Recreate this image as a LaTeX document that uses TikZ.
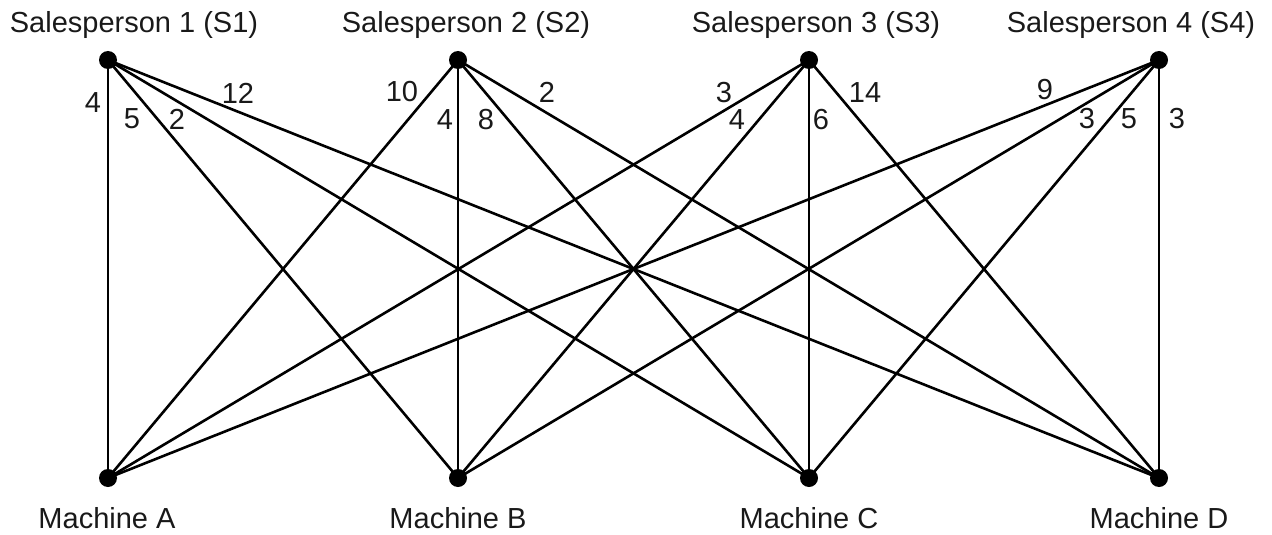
\documentclass[tikz,border=0pt]{standalone}
\usepackage{fontspec}
\setmainfont{Liberation Sans}
\begin{document}
\begin{tikzpicture}[x=1pt,y=-1pt,
  dot/.style={circle,fill=black,inner sep=0pt,minimum size=18pt},
  edge/.style={line width=2.6pt,black},
  lbl/.style={font=\fontsize{29}{34}\selectfont,inner sep=0pt,text=black!90}]
\useasboundingbox (0,0) rectangle (1272,535);
% dots
\node[dot] (s1) at (108,60) {};
\node[dot] (s2) at (458,60) {};
\node[dot] (s3) at (809,60) {};
\node[dot] (s4) at (1159,60) {};
\node[dot] (a) at (108,478) {};
\node[dot] (b) at (458,478) {};
\node[dot] (c) at (809,478) {};
\node[dot] (d) at (1159,478) {};
% edges
\foreach \s in {s1,s2,s3,s4}{
  \foreach \m in {a,b,c,d}{
    \draw[edge] (\s.center) -- (\m.center);
  }
}
% titles
\node[lbl,anchor=base] (t1) at (134,33) {Salesperson 1 (S1)};
\node[lbl,anchor=base] (t2) at (466,33) {Salesperson 2 (S2)};
\node[lbl,anchor=base] (t3) at (816,33) {Salesperson 3 (S3)};
\node[lbl,anchor=base] (t4) at (1131,33) {Salesperson 4 (S4)};
\node[lbl,anchor=base] (ma) at (107,528) {Machine A};
\node[lbl,anchor=base] (mb) at (458,528) {Machine B};
\node[lbl,anchor=base] (mc) at (809,528) {Machine C};
\node[lbl,anchor=base] (md) at (1159,528) {Machine D};
% weights
\node[lbl] (w1a) at (93,103) {4};
\node[lbl] (w1b) at (132,119) {5};
\node[lbl] (w1c) at (177,119) {2};
\node[lbl] (w1d) at (238,93) {12};
\node[lbl] (w2a) at (402,92) {10};
\node[lbl] (w2b) at (445,120) {4};
\node[lbl] (w2c) at (486,120) {8};
\node[lbl] (w2d) at (547,92) {2};
\node[lbl] (w3a) at (724,93) {3};
\node[lbl] (w3b) at (737,120) {4};
\node[lbl] (w3c) at (821,120) {6};
\node[lbl] (w3d) at (865,93) {14};
\node[lbl] (w4a) at (1045,90) {9};
\node[lbl] (w4b) at (1087,119) {3};
\node[lbl] (w4c) at (1129,119) {5};
\node[lbl] (w4d) at (1177,119) {3};
\end{tikzpicture}
\end{document}
